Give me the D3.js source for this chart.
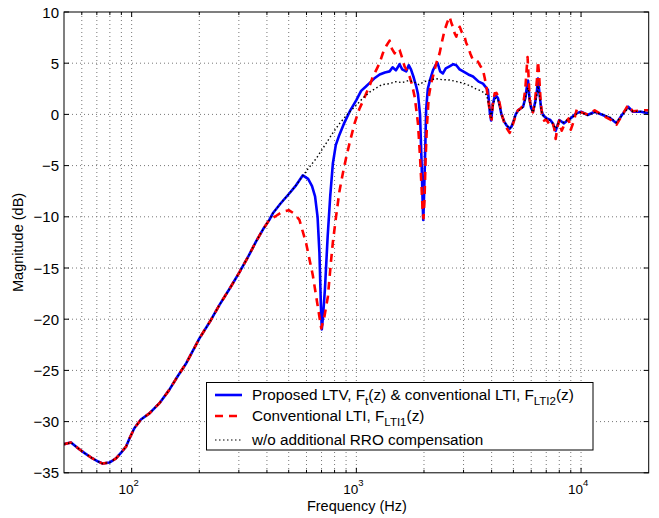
<!DOCTYPE html>
<html>
<head>
<meta charset="utf-8">
<script src="https://cdn.jsdelivr.net/npm/d3@7"></script>
<style>
  body { margin: 0; background: #fff; }
  text { font-family: "Liberation Sans", Arial, Helvetica, sans-serif; }
</style>
</head>
<body>
<div id="main"></div>
<script>
// ---- data (frequency in Hz, magnitude in dB) ----
var lowFreqCommon = [
    [50,-32.2],[53.7,-32.05],[58.5,-32.7],[62,-33.1],[67,-33.6],[71,-33.9],[74.3,-34.1],
    [79.6,-34.0],[85.2,-33.6],[90,-33.0],[94.4,-32.45],[98,-31.6],[102.8,-30.65],[110,-29.8],
    [120,-29.2],[133,-28.2],[147,-26.9],[160,-25.6],[175,-24.3],[200,-21.9],[225,-20.1],
    [246,-18.6],[275,-16.9],[302,-15.4],[330,-13.9],[358,-12.4],[385,-11.2],[410,-10.3]
];

var proposedLTV = [
    [425,-9.66],[460,-8.7],[504,-7.7],[540,-6.9],[578,-5.95],[610,-6.3],[635,-7.0],[655,-8.0],
    [672,-10.0],[685,-13.5],[695,-18.5],[702,-21.0],[712,-19.5],[725,-17.0],[745,-12.0],
    [765,-8.0],[786,-4.8],[810,-3.0],[840,-2.0],[885,-0.8],[940,0.4],[1000,1.4],[1050,2.3],
    [1100,2.7],[1150,3.1],[1200,3.5],[1270,3.9],[1340,4.1],[1406,4.2],[1450,4.6],[1500,4.3],
    [1557,4.9],[1600,4.4],[1667,4.2],[1710,4.8],[1750,4.4],[1800,3.6],[1849,2.7],[1880,2.0],
    [1920,0.0],[1950,-4.5],[1975,-9.0],[1985,-10.3],[1995,-9.0],[2020,-4.5],[2045,0.5],
    [2080,2.5],[2130,3.4],[2192,4.3],[2250,4.8],[2300,5.0],[2360,4.2],[2427,4.0],[2500,4.5],
    [2600,4.7],[2700,4.9],[2785,4.8],[2880,4.4],[3000,4.17],[3150,3.9],[3304,3.7],[3500,3.2],
    [3660,3.0],[3850,2.4],[3930,0.1],[3980,-0.6],[4050,1.0],[4127,1.73],[4200,1.8],[4270,1.57],
    [4350,0.8],[4418,0.07],[4550,-0.7],[4651,-1.04],[4812,-1.4],[4900,-1.2],[5000,-0.7],
    [5120,0.0],[5240,0.4],[5400,0.6],[5520,0.75],[5650,1.6],[5750,2.8],[5810,3.3],[5860,2.2],
    [5905,1.4],[6000,0.6],[6110,0.26],[6250,1.2],[6370,2.4],[6430,3.5],[6550,1.8],[6650,0.5],
    [6770,-0.06],[7000,-0.38],[7300,-0.55],[7500,-0.9],[7710,-1.6],[7900,-0.9],[8000,-0.55],
    [8400,-0.87],[8700,-0.6],[9000,-0.38],[9500,0.1],[10000,0.26],[10700,-0.06],[11500,0.26],
    [12500,-0.06],[13500,-0.38],[14380,-0.87],[15200,-0.06],[16190,0.75],[17000,0.26],
    [18500,0.26],[20000,0.1]
];

var conventionalLTI = [
    [440,-9.9],[470,-9.5],[500,-9.35],[530,-9.7],[558,-10.3],[598,-12.6],[640,-15.7],
    [674,-18.8],[698,-20.9],[720,-19.8],[747,-17.8],[770,-14.5],[786,-12.5],[812,-10.0],
    [841,-7.5],[870,-5.8],[901,-4.2],[940,-2.5],[982,-0.87],[1030,0.5],[1070,1.3],[1107,2.06],
    [1150,2.9],[1185,3.7],[1230,4.4],[1268,5.0],[1312,5.97],[1360,6.7],[1406,7.2],[1440,6.4],
    [1480,5.97],[1520,6.4],[1557,6.3],[1600,5.5],[1640,4.66],[1690,4.2],[1726,3.7],[1770,2.9],
    [1817,1.73],[1850,0.4],[1880,-0.87],[1900,-2.5],[1920,-4.1],[1950,-7.06],[1975,-9.66],
    [1990,-10.15],[2010,-8.36],[2035,-4.1],[2060,-1.2],[2100,1.73],[2150,3.0],[2192,3.7],
    [2270,5.0],[2347,5.97],[2410,7.2],[2472,8.24],[2540,9.0],[2600,9.54],[2650,8.9],
    [2690,8.56],[2740,7.9],[2785,7.6],[2830,8.2],[2883,8.56],[2950,8.0],[3030,7.6],[3080,7.0],
    [3140,6.6],[3220,5.9],[3304,5.3],[3400,5.3],[3475,5.15],[3570,4.7],[3660,4.34],[3730,3.5],
    [3792,2.7],[3860,1.5],[3900,0.75],[3958,-0.26],[4000,-0.5],[4050,1.0],[4127,2.06],
    [4200,2.1],[4270,1.8],[4350,1.0],[4418,0.1],[4550,-0.8],[4651,-1.3],[4812,-1.8],[4900,-1.4],
    [5000,-0.8],[5120,-0.1],[5240,0.4],[5400,0.6],[5520,0.9],[5650,2.5],[5730,4.5],[5780,5.6],
    [5830,4.0],[5905,1.5],[6000,0.5],[6110,0.2],[6250,1.5],[6370,3.5],[6430,5.2],[6500,4.0],
    [6600,1.5],[6700,0.0],[6850,-0.6],[7000,-0.5],[7200,-0.9],[7450,-0.7],[7600,-1.4],
    [7710,-2.4],[7850,-1.2],[8000,-0.6],[8200,-1.6],[8500,-0.8],[8800,-0.4],[9000,-1.5],
    [9300,-0.6],[9600,0.6],[10000,0.2],[10700,0.0],[11500,0.4],[12500,-0.1],[13500,-0.5],
    [14380,-1.0],[15200,-0.1],[16190,0.9],[17000,0.3],[18500,0.4],[20000,0.4]
];

var noCompensation = [
    [425,-9.66],[460,-8.7],[504,-7.7],[540,-6.9],[578,-6.0],[610,-5.3],[663,-4.3],[735,-2.8],
    [786,-1.8],[841,-0.9],[920,0.1],[1000,0.9],[1070,1.6],[1150,2.2],[1230,2.6],[1300,2.9],
    [1400,3.0],[1500,3.2],[1600,3.1],[1700,3.3],[1800,3.2],[1900,2.9],[2000,3.2],[2100,3.3],
    [2250,3.5],[2400,3.4],[2600,3.36],[2800,3.2],[3000,3.04],[3200,2.8],[3400,2.5],[3600,2.3],
    [3800,1.9],[3930,0.43],[3980,-0.3],[4050,0.8],[4127,1.5],[4200,1.6],[4270,1.4],[4350,0.7],
    [4418,0.0],[4550,-0.7],[4651,-1.0],[4812,-1.4],[4900,-1.2],[5000,-0.7],[5120,0.0],
    [5240,0.3],[5400,0.5],[5520,0.7],[5650,1.5],[5750,2.4],[5810,2.6],[5860,2.0],[5905,1.3],
    [6000,0.5],[6110,0.2],[6250,1.0],[6370,2.0],[6430,2.8],[6550,1.6],[6650,0.4],[6770,-0.1],
    [7000,-0.4],[7300,-0.6],[7500,-0.9],[7710,-1.4],[7900,-0.9],[8000,-0.6],[8400,-0.8],
    [8700,-0.5],[9000,-0.4],[9500,0.0],[10000,0.2],[10700,-0.1],[11500,0.2],[12500,0.0],
    [13500,-0.3],[14380,-0.8],[15200,-0.1],[16190,0.6],[17000,0.3],[18500,0.3],[20000,0.2]
];

var yTicks = [-35,-30,-25,-20,-15,-10,-5,0,5,10];
var xMajorExp = [2,3,4];
var legendLabels = [
    [["Proposed LTV, F",0],["t",1],["(z) & conventional LTI, F",0],["LTI2",1],["(z)",0]],
    [["Conventional LTI, F",0],["LTI1",1],["(z)",0]],
    [["w/o additional RRO compensation",0]]
];

// ---- layout ----
var ctx = {
    w: 659, h: 518,
    left: 64, right: 648.7, top: 12, bottom: 472.8
};

var svg = d3.select("#main").append("svg")
    .attr("width", ctx.w).attr("height", ctx.h);
svg.append("rect").attr("width", ctx.w).attr("height", ctx.h).attr("fill", "#fff");

var xScale = d3.scaleLog().domain([50, 20000]).range([ctx.left, ctx.right]);
var yScale = d3.scaleLinear().domain([-35, 10]).range([ctx.bottom, ctx.top]);

// all log ticks (minor + major) inside the domain
var xAll = [];
[10, 100, 1000, 10000].forEach(function(dec){
    for (var k = 1; k <= 9; k++){
        var v = dec * k;
        if (v > 50 && v < 20000) xAll.push(v);
    }
});
var xMajor = xMajorExp.map(function(e){ return Math.pow(10, e); });

// grid
var gridG = svg.append("g");
gridG.selectAll("line.gx").data(xAll).enter().append("line")
    .attr("x1", function(d){ return xScale(d); }).attr("x2", function(d){ return xScale(d); })
    .attr("y1", ctx.top).attr("y2", ctx.bottom)
    .style("stroke", "#777").style("stroke-width", 1).style("stroke-dasharray", "1,3");
gridG.selectAll("line.gy").data(yTicks.slice(1, -1)).enter().append("line")
    .attr("x1", ctx.left).attr("x2", ctx.right)
    .attr("y1", function(d){ return yScale(d); }).attr("y2", function(d){ return yScale(d); })
    .style("stroke", "#777").style("stroke-width", 1).style("stroke-dasharray", "1,3");

// curves
var plotG = svg.append("g");
svg.append("clipPath").attr("id", "clip").append("rect")
    .attr("x", ctx.left).attr("y", ctx.top)
    .attr("width", ctx.right - ctx.left).attr("height", ctx.bottom - ctx.top);
plotG.attr("clip-path", "url(#clip)");

var line = d3.line()
    .x(function(d){ return xScale(d[0]); })
    .y(function(d){ return yScale(d[1]); });

var series = [
    {data: lowFreqCommon.concat(proposedLTV), color: "#0000ff", width: 2.6, dash: null},
    {data: lowFreqCommon.concat(conventionalLTI), color: "#ff0000", width: 2.6, dash: "8,6"},
    {data: lowFreqCommon.concat(noCompensation), color: "#000", width: 1.4, dash: "1.5,2.5"}
];
series.forEach(function(s){
    plotG.append("path").datum(s.data)
        .attr("d", line)
        .style("fill", "none")
        .style("stroke", s.color)
        .style("stroke-width", s.width)
        .style("stroke-linejoin", "round")
        .style("stroke-dasharray", s.dash);
});

// ticks (inward, on all four sides)
var tickG = svg.append("g").style("stroke", "#000").style("stroke-width", 1);
xAll.forEach(function(v){
    var len = xMajor.indexOf(v) >= 0 ? 5 : 3;
    var px = xScale(v);
    tickG.append("line").attr("x1", px).attr("x2", px).attr("y1", ctx.bottom).attr("y2", ctx.bottom - len);
    tickG.append("line").attr("x1", px).attr("x2", px).attr("y1", ctx.top).attr("y2", ctx.top + len);
});
yTicks.forEach(function(v){
    var py = yScale(v);
    tickG.append("line").attr("x1", ctx.left).attr("x2", ctx.left + 5).attr("y1", py).attr("y2", py);
    tickG.append("line").attr("x1", ctx.right).attr("x2", ctx.right - 5).attr("y1", py).attr("y2", py);
});

// axes box
svg.append("rect")
    .attr("x", ctx.left).attr("y", ctx.top)
    .attr("width", ctx.right - ctx.left).attr("height", ctx.bottom - ctx.top)
    .style("fill", "none").style("stroke", "#000").style("stroke-width", 1);

// y tick labels
svg.selectAll("text.ylab").data(yTicks).enter().append("text")
    .attr("x", ctx.left - 5)
    .attr("y", function(d){ return yScale(d) + 5.5; })
    .style("text-anchor", "end")
    .style("font-size", "15px")
    .text(function(d){ return d < 0 ? "\u2212" + Math.abs(d) : d; });

// x tick labels 10^n
xMajorExp.forEach(function(e){
    var t = svg.append("text")
        .attr("x", xScale(Math.pow(10, e)) - 3)
        .attr("y", 494)
        .style("text-anchor", "middle")
        .style("font-size", "13.5px");
    t.append("tspan").text("10");
    t.append("tspan").attr("dy", -8).style("font-size", "9.5px").text(e);
});

// axis labels
svg.append("text")
    .attr("x", (ctx.left + ctx.right) / 2 + 0.5)
    .attr("y", 511)
    .style("text-anchor", "middle")
    .style("font-size", "14.5px")
    .text("Frequency (Hz)");
svg.append("text")
    .attr("transform", "translate(23," + ((ctx.top + ctx.bottom) / 2) + ") rotate(-90)")
    .style("text-anchor", "middle")
    .style("font-size", "14.5px")
    .text("Magnitude (dB)");

// legend
var lg = svg.append("g");
lg.append("rect")
    .attr("x", 206.5).attr("y", 382.5).attr("width", 386.5).attr("height", 67.5)
    .style("fill", "#fff").style("stroke", "#000").style("stroke-width", 1);
var rowY = [395, 416, 440];
series.forEach(function(s, i){
    lg.append("line")
        .attr("x1", 215).attr("x2", 242).attr("y1", rowY[i]).attr("y2", rowY[i])
        .style("stroke", s.color)
        .style("stroke-width", i === 2 ? 1.2 : s.width)
        .style("stroke-dasharray", s.dash);
    var t = lg.append("text")
        .attr("x", 252).attr("y", rowY[i] + 5)
        .style("font-size", "15.3px");
    var sub = 0;
    legendLabels[i].forEach(function(part){
        var ts = t.append("tspan").text(part[0]);
        if (part[1] && !sub){ ts.attr("dy", 5).style("font-size", "11.5px"); sub = 1; }
        else if (!part[1] && sub){ ts.attr("dy", -5).style("font-size", "15.3px"); sub = 0; }
    });
});
</script>
</body>
</html>
